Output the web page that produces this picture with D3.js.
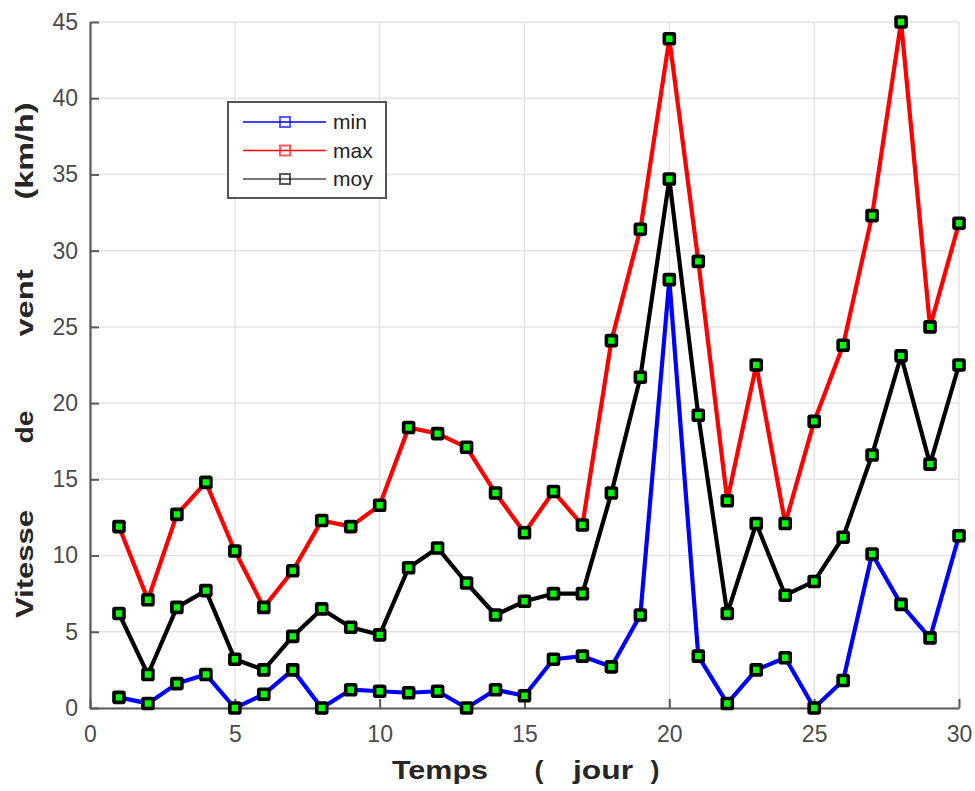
<!DOCTYPE html>
<html>
<head>
<meta charset="utf-8">
<script src="https://cdn.jsdelivr.net/npm/d3@7"></script>
<style>
  body { margin: 0; background: #fff; }
  text { font-family: "Liberation Sans", Arial, sans-serif; }
</style>
</head>
<body>
<div id="vis"></div>
<script>
var margin = {top: 22, right: 16, bottom: 83, left: 90},
    width = 975 - margin.left - margin.right,
    height = 791 - margin.top - margin.bottom;

// days 1..30
var jours = d3.range(1, 31)

// vitesse du vent (km/h)
var vmin = [0.7, 0.3, 1.6, 2.2, 0, 0.9, 2.5, 0, 1.2, 1.1, 1.0, 1.1, 0, 1.2, 0.8,
            3.2, 3.4, 2.7, 6.1, 28.1, 3.4, 0.3, 2.5, 3.3, 0, 1.8, 10.1, 6.8, 4.6, 11.3]
var vmax = [11.9, 7.1, 12.7, 14.8, 10.3, 6.6, 9.0, 12.3, 11.9, 13.3, 18.4, 18.0, 17.1, 14.1, 11.5,
            14.2, 12.0, 24.1, 31.4, 43.9, 29.3, 13.6, 22.5, 12.1, 18.8, 23.8, 32.3, 45.0, 25.0, 31.8]
var vmoy = [6.2, 2.2, 6.6, 7.7, 3.2, 2.5, 4.7, 6.5, 5.3, 4.8, 9.2, 10.5, 8.2, 6.1, 7.0,
            7.5, 7.5, 14.1, 21.7, 34.7, 19.2, 6.2, 12.1, 7.4, 8.3, 11.2, 16.6, 23.1, 16.0, 22.5]

var seriesNames = ["min", "max", "moy"]
var seriesColors = ["#0000ff", "#ff0000", "#000000"]
var xTicks = [0, 5, 10, 15, 20, 25, 30]
var yTicks = [0, 5, 10, 15, 20, 25, 30, 35, 40, 45]

var series = [vmin, vmax, vmoy].map(function(v, i) {
    return {name: seriesNames[i], color: seriesColors[i],
            values: v.map(function(d, j) { return {x: jours[j], y: d} })}
})

var x = d3.scaleLinear().domain([0, 30]).range([0, width])
var y = d3.scaleLinear().domain([0, 45]).range([height, 0])

var svg = d3.select("#vis").append("svg")
    .attr("width", 975)
    .attr("height", 791)
  .append("g")
    .attr("transform", "translate(" + margin.left + "," + margin.top + ")")

// grid
svg.append("g").selectAll("line.gx")
    .data(xTicks).enter().append("line")
    .attr("x1", function(d) { return x(d) }).attr("x2", function(d) { return x(d) })
    .attr("y1", 0).attr("y2", height)
    .attr("stroke", "#e3e3e3").attr("stroke-width", 1.5)
svg.append("g").selectAll("line.gy")
    .data(yTicks).enter().append("line")
    .attr("y1", function(d) { return y(d) }).attr("y2", function(d) { return y(d) })
    .attr("x1", 0).attr("x2", width)
    .attr("stroke", "#e3e3e3").attr("stroke-width", 1.5)

// axes
var xAxis = svg.append("g")
    .attr("transform", "translate(0," + height + ")")
    .call(d3.axisBottom(x).tickValues(xTicks).tickSizeInner(-9).tickSizeOuter(0).tickPadding(22))
var yAxis = svg.append("g")
    .call(d3.axisLeft(y).tickValues(yTicks).tickSizeInner(-9).tickSizeOuter(0).tickPadding(12))

;[xAxis, yAxis].forEach(function(a) {
    a.select(".domain").attr("stroke", "#5a5a5a").attr("stroke-width", 2.2)
    a.selectAll(".tick line").attr("stroke", "#5a5a5a").attr("stroke-width", 2)
    a.selectAll(".tick text")
        .attr("fill", "#4a4a4a")
        .style("font-size", "23px")
        .style("font-family", "'Liberation Sans', Arial, sans-serif")
})
xAxis.selectAll(".tick text").attr("dy", "0.5em")

// lines and markers
var line = d3.line()
    .x(function(d) { return x(d.x) })
    .y(function(d) { return y(d.y) })

series.forEach(function(s) {
    svg.append("path")
        .datum(s.values)
        .attr("fill", "none")
        .attr("stroke", s.color)
        .attr("stroke-width", 4.2)
        .attr("stroke-linejoin", "round")
        .attr("d", line)

    svg.append("g").selectAll("rect")
        .data(s.values).enter().append("rect")
        .attr("x", function(d) { return x(d.x) - 5 })
        .attr("y", function(d) { return y(d.y) - 5 })
        .attr("width", 10)
        .attr("height", 10)
        .attr("rx", 1)
        .attr("fill", "#00ff00")
        .attr("stroke", "#000")
        .attr("stroke-width", 3.6)
})

// legend
var legend = svg.append("g")
    .attr("transform", "translate(" + (228 - margin.left) + "," + (102 - margin.top) + ")")
legend.append("rect")
    .attr("width", 158).attr("height", 96)
    .attr("fill", "#fff").attr("stroke", "#555").attr("stroke-width", 2)

var item = legend.selectAll("g.item")
    .data(series).enter().append("g")
    .attr("transform", function(d, i) { return "translate(0," + (20 + i * 28.5) + ")" })
item.append("line")
    .attr("x1", 15).attr("x2", 98)
    .attr("stroke", function(d) { return d.color })
    .attr("stroke-width", 1.5)
    .attr("opacity", function(d) { return d.name == "moy" ? 0.7 : 1 })
item.append("rect")
    .attr("x", 52).attr("y", -5).attr("width", 10).attr("height", 10)
    .attr("fill", "none")
    .attr("stroke", function(d) { return d.color })
    .attr("stroke-width", 2)
    .attr("opacity", 0.65)
item.append("text")
    .attr("x", 105).attr("dy", "0.35em")
    .attr("fill", "#222")
    .style("font-size", "21px")
    .text(function(d) { return d.name })

// axis titles
var root = d3.select("svg")
var xTitle = [
    {t: "Temps", x: 440, len: 96},
    {t: "(", x: 539, len: 9},
    {t: "jour", x: 603, len: 60},
    {t: ")", x: 655, len: 9}
]
root.selectAll("text.xt")
    .data(xTitle).enter().append("text")
    .attr("class", "xt")
    .attr("x", function(d) { return d.x })
    .attr("y", 779)
    .attr("text-anchor", "middle")
    .attr("textLength", function(d) { return d.len })
    .attr("lengthAdjust", "spacingAndGlyphs")
    .attr("fill", "#262626")
    .style("font-size", "25px")
    .style("font-weight", "bold")
    .text(function(d) { return d.t })

var yTitle = [
    {t: "Vitesse", y: 564, len: 108},
    {t: "de", y: 427, len: 33},
    {t: "vent", y: 303, len: 67},
    {t: "(km/h)", y: 151, len: 97}
]
root.selectAll("text.yt")
    .data(yTitle).enter().append("text")
    .attr("class", "yt")
    .attr("transform", function(d) { return "translate(33," + d.y + ") rotate(-90)" })
    .attr("text-anchor", "middle")
    .attr("textLength", function(d) { return d.len })
    .attr("lengthAdjust", "spacingAndGlyphs")
    .attr("fill", "#262626")
    .style("font-size", "24px")
    .style("font-weight", "bold")
    .text(function(d) { return d.t })
</script>
</body>
</html>
